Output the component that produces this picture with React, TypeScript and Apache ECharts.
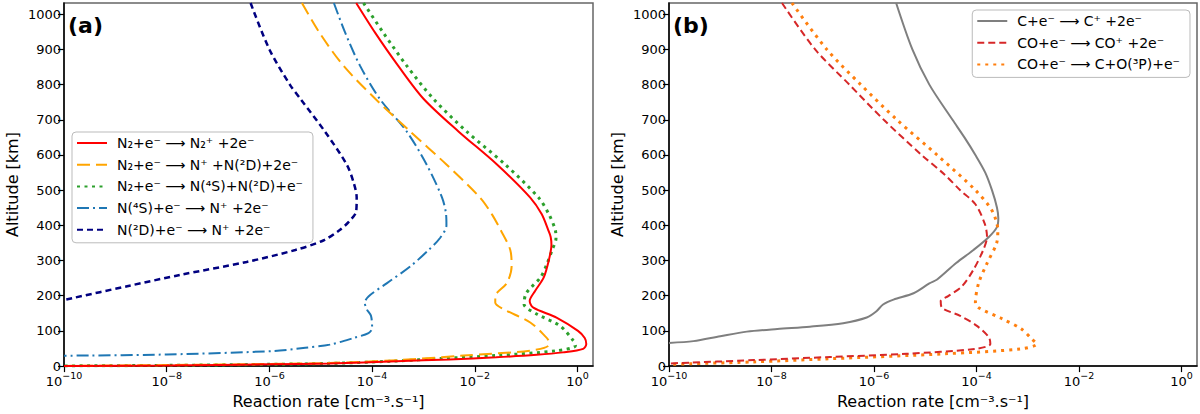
import React, { useEffect, useRef } from 'react';
import * as echarts from 'echarts';

// ---- panel (a): nitrogen reactions (altitude km, rate cm^-3 s^-1) ----
const n2IonAlt = [1032, 947, 854, 760, 667, 573, 479, 432, 386, 367, 345, 300, 252, 214, 185, 166, 138, 100, 80, 63, 49, 39, 32, 25, 19, 14, 7.5, 5, 2, 0.5];
const n2IonRate = [4.9e-5, 1.15e-4, 3.2e-4, 1.0e-3, 4.8e-3, 0.027, 0.12, 0.2, 0.27, 0.3, 0.31, 0.275, 0.22, 0.15, 0.117, 0.138, 0.39, 1.02, 1.38, 1.48, 1.29, 0.52, 0.16, 0.026, 3.2e-3, 3.0e-4, 1.5e-5, 1e-6, 1e-8, 1e-10];

const n2DissIonAlt = [1032, 947, 854, 760, 667, 573, 479, 432, 386, 330, 283, 236, 198, 180, 162, 124, 86, 70, 58, 44, 30, 17, 9, 6, 3, 0.5];
const n2DissIonRate = [4.3e-6, 9.5e-6, 2.75e-5, 1.15e-4, 5.5e-4, 2.8e-3, 0.0126, 0.0214, 0.032, 0.049, 0.052, 0.042, 0.025, 0.025, 0.036, 0.12, 0.23, 0.275, 0.27, 0.12, 6.0e-3, 3.2e-4, 1.5e-5, 1e-6, 1e-8, 1e-10];

const n2DissAlt = [1032, 947, 854, 760, 667, 573, 479, 430, 386, 363, 330, 288, 252, 207, 176, 148, 114, 72, 58, 44, 30, 22, 14, 7.5, 5, 2, 0.5];
const n2DissRate = [6.8e-5, 1.66e-4, 4.7e-4, 1.55e-3, 6.9e-3, 0.039, 0.174, 0.28, 0.37, 0.38, 0.32, 0.25, 0.19, 0.1, 0.091, 0.16, 0.46, 0.83, 0.91, 0.4, 0.026, 2.5e-3, 2.5e-4, 1.26e-5, 1e-6, 1e-8, 1e-10];

const n4sIonAlt = [1032, 947, 854, 760, 667, 573, 479, 432, 400, 364, 330, 283, 236, 198, 180, 161, 143, 108, 94, 80, 61, 52, 43, 33, 29.5];
const n4sIonRate = [1.8e-5, 3.0e-5, 5.8e-5, 1.4e-4, 4.7e-4, 1.15e-3, 2.3e-3, 2.75e-3, 2.8e-3, 2.1e-3, 1.26e-3, 5.5e-4, 1.95e-4, 8.5e-5, 7.2e-5, 7.9e-5, 9.5e-5, 1.0e-4, 8.5e-5, 4.4e-5, 1.5e-5, 5e-6, 1.26e-6, 1e-8, 1e-10];

const n2dIonAlt = [1032, 900, 800, 760, 667, 573, 520, 479, 440, 410, 386, 357, 330, 296, 259, 227, 188];
const n2dIonRate = [4.3e-7, 1.0e-6, 2.5e-6, 4.0e-6, 1.2e-5, 3.2e-5, 4.4e-5, 5.0e-5, 4.9e-5, 3.5e-5, 2.3e-5, 1.12e-5, 3.2e-6, 3.6e-7, 1.8e-8, 1.7e-9, 1e-10];

// ---- panel (b): carbon reactions ----
const cIonAlt = [1032, 900, 800, 700, 650, 600, 550, 500, 451, 420, 395, 367, 330, 293, 246, 235, 207, 189, 175, 155, 138, 122, 112, 105.6, 98, 85, 71, 66];
const cIonRate = [2.7e-6, 5.6e-6, 1.2e-5, 3.4e-5, 5.8e-5, 9.5e-5, 1.48e-4, 2.0e-4, 2.5e-4, 2.66e-4, 2.5e-4, 1.74e-4, 8.7e-5, 4.0e-5, 1.7e-5, 1.2e-5, 5.9e-6, 2.4e-6, 1.5e-6, 1.1e-6, 7.2e-7, 2.5e-7, 5.6e-8, 1.3e-8, 3.3e-9, 1e-9, 3.0e-10, 1e-10];

const coIonAlt = [1032, 900, 800, 700, 600, 544, 500, 460, 404, 367, 330, 274, 227, 199, 185, 166, 143, 115, 82, 63, 49, 35, 26, 17, 7.5];
const coIonRate = [1.6e-8, 7.1e-8, 3.3e-7, 1.55e-6, 8.5e-6, 2.4e-5, 4.8e-5, 9.5e-5, 1.45e-4, 1.6e-4, 1.35e-4, 8.7e-5, 5.2e-5, 2.8e-5, 2.0e-5, 2.1e-5, 4.8e-5, 1.0e-4, 1.74e-4, 1.86e-4, 9.5e-5, 4.3e-6, 1.4e-7, 4.5e-9, 1e-10];

const coDissAlt = [1032, 900, 800, 700, 600, 500, 442, 386, 348, 292, 236, 180, 166, 134, 106, 77, 63, 49, 35, 21, 12, 5];
const coDissRate = [2.5e-8, 1.2e-7, 5.5e-7, 2.8e-6, 1.7e-5, 9.5e-5, 2.0e-4, 2.6e-4, 2.45e-4, 1.6e-4, 1.1e-4, 9.5e-5, 1.1e-4, 3.2e-4, 7.4e-4, 1.2e-3, 1.5e-3, 7.4e-4, 2.4e-5, 1.4e-7, 4.5e-9, 1e-10];

const xTicks = [1e-10, 1e-8, 1e-6, 1e-4, 1e-2, 1];
const yTicks = [0, 100, 200, 300, 400, 500, 600, 700, 800, 900, 1000];

const FONT = '"DejaVu Sans", sans-serif';

const pairs = (rate: number[], alt: number[]) => rate.map((r, i) => [r, alt[i]]);

export default function App() {
  const chartRef = useRef<HTMLDivElement>(null);

  useEffect(() => {
    if (!chartRef.current) return;
    document.body.style.margin = '0';
    const chart = echarts.init(chartRef.current, null, { renderer: 'svg' });

    const xAxis = (gridIndex: number) => ({
      type: 'log',
      logBase: 10,
      gridIndex,
      min: 1e-10,
      max: 2,
      name: 'Reaction rate [cm⁻³.s⁻¹]',
      nameLocation: 'middle',
      nameGap: 24,
      nameTextStyle: { fontSize: 16, color: '#000', fontFamily: FONT },
      axisLine: { show: true, onZero: false, lineStyle: { color: '#000', width: 1.5 } },
      axisTick: { show: true, length: 6, lineStyle: { color: '#000', width: 1.2 }, customValues: xTicks },
      axisLabel: {
        margin: 4,
        customValues: xTicks,
        formatter: (v: number) => {
          const e = Math.round(Math.log10(v));
          return '{b|10}{s|' + (e < 0 ? '−' : '') + Math.abs(e) + '}';
        },
        rich: {
          b: { fontSize: 13, lineHeight: 18, color: '#000', fontFamily: FONT, verticalAlign: 'bottom' },
          s: { fontSize: 9.5, lineHeight: 11, color: '#000', fontFamily: FONT, verticalAlign: 'top' },
        },
      },
      splitLine: { show: false },
    });

    const yAxis = (gridIndex: number) => ({
      type: 'value',
      gridIndex,
      min: 0,
      max: 1032,
      name: 'Altitude [km]',
      nameLocation: 'middle',
      nameGap: 44,
      nameTextStyle: { fontSize: 16, color: '#000', fontFamily: FONT },
      axisLine: { show: true, onZero: false, lineStyle: { color: '#000', width: 1.5 } },
      axisTick: { show: true, length: 6, lineStyle: { color: '#000', width: 1.2 }, customValues: yTicks },
      axisLabel: { fontSize: 13, color: '#000', fontFamily: FONT, margin: 3, customValues: yTicks, formatter: (v: number) => String(v) },
      splitLine: { show: false },
    });

    const line = (name: string, idx: number, rate: number[], alt: number[], color: string, width: number, type: any, z = 2) => ({
      name,
      type: 'line',
      xAxisIndex: idx,
      yAxisIndex: idx,
      data: pairs(rate, alt),
      symbol: 'none',
      smooth: 0.3,
      z,
      itemStyle: { color },
      lineStyle: { color, width, type },
    });

    const namesA = [
      'N₂+e⁻ ⟶ N₂⁺ +2e⁻',
      'N₂+e⁻ ⟶ N⁺ +N(²D)+2e⁻',
      'N₂+e⁻ ⟶ N(⁴S)+N(²D)+e⁻',
      'N(⁴S)+e⁻ ⟶ N⁺ +2e⁻',
      'N(²D)+e⁻ ⟶ N⁺ +2e⁻',
    ];
    const namesB = [
      'C+e⁻ ⟶ C⁺ +2e⁻',
      'CO+e⁻ ⟶ CO⁺ +2e⁻',
      'CO+e⁻ ⟶ C+O(³P)+e⁻',
    ];

    const legendBase = {
      orient: 'vertical',
      itemWidth: 30,
      itemHeight: 12,
      itemGap: 5.7,
      padding: [3, 10, 5, 4],
      borderColor: '#bbb',
      borderWidth: 1,
      borderRadius: 4,
      backgroundColor: 'rgba(255,255,255,0.85)',
      selectedMode: false,
      itemStyle: { opacity: 0 },
      textStyle: { fontSize: 14, lineHeight: 16, color: '#000', fontFamily: FONT, padding: [0, 0, 0, 5] },
    };

    chart.setOption({
      animation: false,
      textStyle: { fontFamily: FONT },
      grid: [
        { left: 64, top: 3, width: 529, height: 367.5, show: true, borderColor: '#666', borderWidth: 1.5 },
        { left: 669, top: 3, width: 528, height: 367.5, show: true, borderColor: '#666', borderWidth: 1.5 },
      ],
      xAxis: [xAxis(0), xAxis(1)],
      yAxis: [yAxis(0), yAxis(1)],
      legend: [
        { ...legendBase, data: namesA, left: 72, top: 132 },
        { ...legendBase, data: namesB, right: 10, top: 10 },
      ],
      graphic: [
        { type: 'text', left: 68, top: 14, style: { text: '(a)', fontSize: 22, fontWeight: 'bold', fontFamily: FONT, fill: '#000' } },
        { type: 'text', left: 673, top: 14, style: { text: '(b)', fontSize: 22, fontWeight: 'bold', fontFamily: FONT, fill: '#000' } },
      ],
      series: [
        line(namesA[0], 0, n2IonRate, n2IonAlt, '#ff0000', 2, 'solid', 5),
        line(namesA[1], 0, n2DissIonRate, n2DissIonAlt, '#ffa500', 2, [13, 6], 4),
        line(namesA[2], 0, n2DissRate, n2DissAlt, '#2ca02c', 3, [3, 4.5], 3),
        line(namesA[3], 0, n4sIonRate, n4sIonAlt, '#1f77b4', 2, [12, 4, 2, 4], 3),
        line(namesA[4], 0, n2dIonRate, n2dIonAlt, '#000080', 2.5, [6, 4], 3),
        line(namesB[0], 1, cIonRate, cIonAlt, '#7f7f7f', 2, 'solid', 3),
        line(namesB[1], 1, coIonRate, coIonAlt, '#d62728', 2, [7, 4], 4),
        line(namesB[2], 1, coDissRate, coDissAlt, '#ff7f0e', 3, [3, 5], 3),
      ],
    });

    return () => chart.dispose();
  }, []);

  return <div ref={chartRef} style={{ width: 1200, height: 414 }} />;
}
